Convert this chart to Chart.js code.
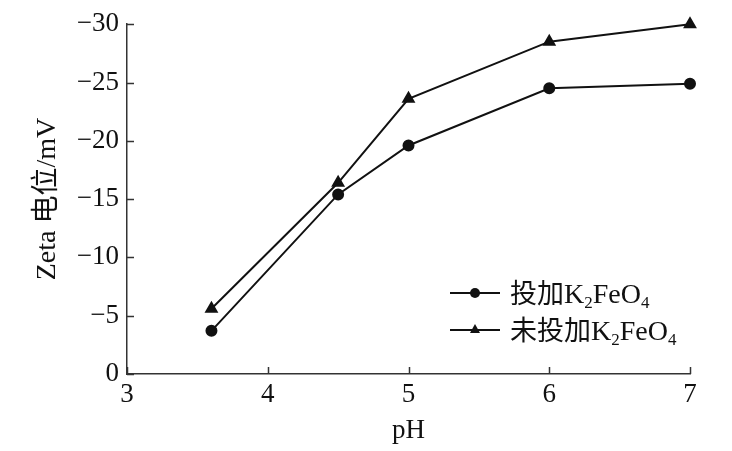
<!DOCTYPE html>
<html>
<head>
<meta charset="utf-8">
<script src="https://cdn.jsdelivr.net/npm/chart.js@4/dist/chart.umd.min.js"></script>
<style>
  body { margin: 0; background: #fff; }
  #wrap { position: relative; width: 732px; height: 451px; }
  #legend {
    position: absolute; left: 450px; top: 274px;
    font-family: "Liberation Serif", "Noto Sans CJK SC", serif;
    font-size: 28px; color: #111; line-height: 37px;
  }
  #legend .row { display: flex; align-items: center; white-space: nowrap; height: 37px; }
  #legend .key { position: relative; width: 50px; height: 2px; background: #111; margin-right: 10px; flex: none; }
  #legend .dot { position: absolute; left: 20px; top: -4px; width: 10px; height: 10px; border-radius: 50%; background: #111; }
  #legend .tri { position: absolute; left: 20px; top: -5px; width: 0; height: 0;
    border-left: 5px solid transparent; border-right: 5px solid transparent; border-bottom: 9px solid #111; }
  #legend sub { font-size: 17px; vertical-align: -5px; line-height: 0; }
  .cjk { font-family: "Noto Sans CJK SC", sans-serif; font-size: 27px; }
</style>
</head>
<body>
<div id="wrap">
  <canvas id="chart" width="732" height="451"></canvas>
  <div id="legend">
    <div class="row"><span class="key"><span class="dot"></span></span><span><span class="cjk">投加</span>K<sub>2</sub>FeO<sub>4</sub></span></div>
    <div class="row"><span class="key"><span class="tri"></span></span><span><span class="cjk">未投加</span>K<sub>2</sub>FeO<sub>4</sub></span></div>
  </div>
</div>
<script>
const phValues = [3.6, 4.5, 5, 6, 7];
const withFerrate = [-3.7, -15.4, -19.6, -24.5, -24.9];
const withoutFerrate = [-5.6, -16.4, -23.6, -28.5, -30.0];
const seriesNames = ['投加K2FeO4', '未投加K2FeO4'];

function toPoints(xs, ys) {
    return xs.map((x, i) => ({ x: x, y: ys[i] }));
}

// Inward tick marks on both axes
const innerTicks = {
    id: 'innerTicks',
    afterDraw(chart) {
        const ctx = chart.ctx;
        const xs = chart.scales.x;
        const ys = chart.scales.y;
        const area = chart.chartArea;
        ctx.save();
        ctx.strokeStyle = '#333';
        ctx.lineWidth = 1.5;
        ctx.beginPath();
        xs.ticks.forEach(t => {
            const px = Math.round(xs.getPixelForValue(t.value)) + 0.5;
            ctx.moveTo(px, area.bottom);
            ctx.lineTo(px, area.bottom - 7);
        });
        ys.ticks.forEach(t => {
            const py = Math.round(ys.getPixelForValue(t.value)) + 0.5;
            ctx.moveTo(area.left, py);
            ctx.lineTo(area.left + 7, py);
        });
        ctx.stroke();
        ctx.restore();
    }
};

const serif = "'Liberation Serif', 'Times New Roman', serif";

new Chart(document.getElementById('chart'), {
    type: 'line',
    data: {
        datasets: [
            {
                label: seriesNames[0],
                data: toPoints(phValues, withFerrate),
                borderColor: '#111',
                backgroundColor: '#111',
                borderWidth: 2,
                pointStyle: 'circle',
                pointRadius: 5,
                tension: 0,
                clip: false
            },
            {
                label: seriesNames[1],
                data: toPoints(phValues, withoutFerrate),
                borderColor: '#111',
                backgroundColor: '#111',
                borderWidth: 2,
                pointStyle: 'triangle',
                pointRadius: 6,
                tension: 0,
                clip: false
            }
        ]
    },
    options: {
        responsive: false,
        animation: false,
        layout: { padding: { top: 18, right: 42, left: 0, bottom: 0 } },
        plugins: {
            legend: { display: false },
            tooltip: { enabled: false }
        },
        scales: {
            x: {
                type: 'linear',
                min: 3,
                max: 7,
                ticks: { stepSize: 1, color: '#111', padding: 5, font: { family: serif, size: 27 } },
                grid: { drawOnChartArea: false, drawTicks: false },
                border: { color: '#333', width: 1.5 },
                title: { display: true, text: 'pH', color: '#111', padding: { top: -6 }, font: { family: serif, size: 27 } },
                afterFit(scale) { scale.height = 77; }
            },
            y: {
                type: 'linear',
                min: -30,
                max: 0,
                reverse: true,
                ticks: {
                    stepSize: 5, color: '#111', padding: 8,
                    font: { family: serif, size: 27 },
                    callback: v => String(v).replace('-', '\u2212')
                },
                grid: { drawOnChartArea: false, drawTicks: false },
                border: { color: '#333', width: 1.5 },
                title: { display: true, text: 'Zeta 电位/mV', color: '#111', padding: { top: 31, bottom: 0 }, font: { family: "'Liberation Serif', 'Noto Sans CJK SC', serif", size: 28 } },
                afterFit(scale) { scale.width = 127; }
            }
        }
    },
    plugins: [innerTicks]
});
</script>
</body>
</html>
